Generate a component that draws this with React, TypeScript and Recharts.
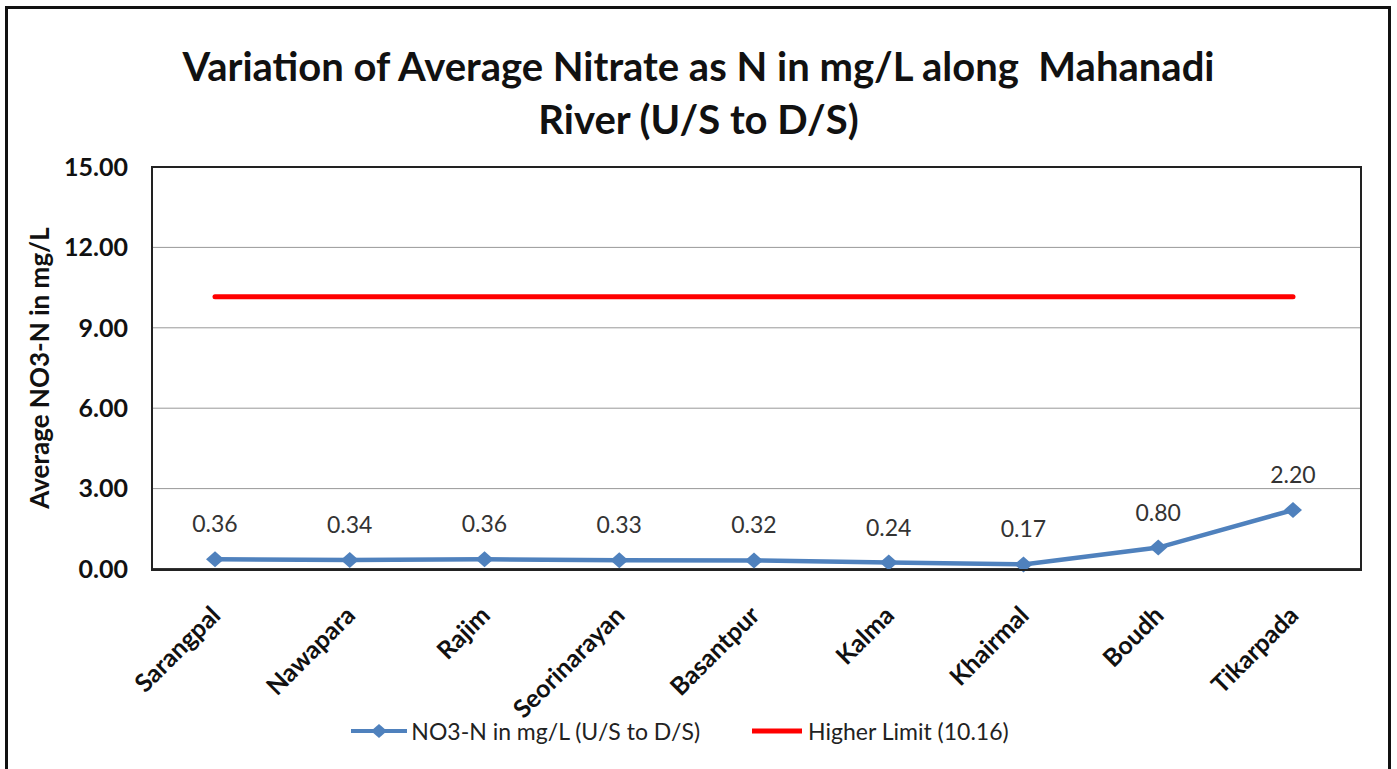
import React from 'react';
import {
  LineChart,
  Line,
  XAxis,
  YAxis,
  CartesianGrid,
  Legend,
  LabelList,
} from 'recharts';

const stations = [
  'Sarangpal',
  'Nawapara',
  'Rajim',
  'Seorinarayan',
  'Basantpur',
  'Kalma',
  'Khairmal',
  'Boudh',
  'Tikarpada',
];
const nitrate = [0.36, 0.34, 0.36, 0.33, 0.32, 0.24, 0.17, 0.8, 2.2];
const higherLimit = 10.16;
const yTicks = [0, 3, 6, 9, 12, 15];

const data = stations.map((name, i) => ({
  name,
  no3: nitrate[i],
  limit: higherLimit,
}));

const FONT = 'Lato, "Open Sans", sans-serif';

const XTick = (props: any) => {
  const { x, y, payload } = props;
  return (
    <g transform={`translate(${x + 7},${y + 40})`}>
      <text
        transform="rotate(-45)"
        textAnchor="end"
        fontFamily={FONT}
        fontWeight="bold"
        fontSize={25}
        fill="#111"
      >
        {payload.value}
      </text>
    </g>
  );
};

const ValueLabel = (props: any) => {
  const { x, y, value } = props;
  return (
    <text
      x={x}
      y={y - 27}
      textAnchor="middle"
      fontFamily={FONT}
      fontSize={23}
      fill="#333"
    >
      {Number(value).toFixed(2)}
    </text>
  );
};

const LegendBox = () => (
  <div
    style={{
      display: 'flex',
      justifyContent: 'center',
      alignItems: 'center',
      fontFamily: FONT,
      fontSize: 23,
      color: '#222',
      paddingTop: 28,
    }}
  >
    <svg width={56} height={20} style={{ marginRight: 4 }}>
      <line x1={0} y1={10} x2={56} y2={10} stroke="#4F81BD" strokeWidth={4} />
      <path d="M28 3 L36 10 L28 17 L20 10 Z" fill="#4F81BD" />
    </svg>
    <span>NO3-N in mg/L (U/S to D/S)</span>
    <svg width={50} height={20} style={{ marginLeft: 52, marginRight: 6 }}>
      <line x1={0} y1={10} x2={50} y2={10} stroke="#FF0000" strokeWidth={5} />
    </svg>
    <span>Higher Limit (10.16)</span>
  </div>
);

export default function App() {
  return (
    <div
      style={{
        position: 'absolute',
        left: 0,
        top: 0,
        width: 1397,
        height: 769,
        background: '#fff',
        overflow: 'hidden',
      }}
    >
      <div
        style={{
          position: 'absolute',
          left: 5,
          top: 6,
          width: 1380,
          height: 780,
          border: '3px solid #111',
        }}
      />
      <div
        style={{
          position: 'absolute',
          left: 0,
          top: 40,
          width: 1397,
          textAlign: 'center',
          fontFamily: FONT,
          fontWeight: 'bold',
          fontSize: 40,
          lineHeight: '53px',
          color: '#111',
        }}
      >
        Variation of Average Nitrate as N in mg/L along&nbsp; Mahanadi
        <br />
        River (U/S to D/S)
      </div>
      <LineChart
        width={1397}
        height={769}
        data={data}
        margin={{ top: 167, right: 37, left: 0, bottom: 0 }}
        style={{ position: 'absolute', left: 0, top: 0 }}
      >
        <CartesianGrid vertical={false} stroke="#999" strokeWidth={1} />
        <XAxis
          dataKey="name"
          height={120}
          tick={<XTick />}
          tickLine={false}
          axisLine={{ stroke: '#333', strokeWidth: 2 }}
          interval={0}
          padding={{ left: 63, right: 67 }}
        />
        <YAxis
          width={152}
          domain={[0, 15]}
          ticks={yTicks}
          tickFormatter={(v: number) => v.toFixed(2)}
          tick={{ fontFamily: FONT, fontWeight: 'bold', fontSize: 25, fill: '#111' }}
          tickLine={false}
          axisLine={{ stroke: '#333', strokeWidth: 2 }}
          tickMargin={18}
          label={{
            value: 'Average NO3-N in mg/L',
            angle: -90,
            position: 'insideLeft',
            offset: 40,
            style: {
              fontFamily: FONT,
              fontWeight: 'bold',
              fontSize: 26,
              fill: '#111',
              textAnchor: 'middle',
            },
          }}
        />
        <Legend height={80} verticalAlign="bottom" content={<LegendBox />} />
        <Line
          type="linear"
          dataKey="limit"
          stroke="#FF0000"
          strokeWidth={5}
          strokeLinecap="round"
          dot={false}
          activeDot={false}
          isAnimationActive={false}
        />
        <Line
          type="linear"
          dataKey="no3"
          stroke="#4F81BD"
          strokeWidth={4.5}
          dot={(p: any) => (
            <path
              key={p.index}
              d={`M${p.cx} ${p.cy - 8} L${p.cx + 9} ${p.cy} L${p.cx} ${p.cy + 8} L${p.cx - 9} ${p.cy} Z`}
              fill="#4F81BD"
            />
          )}
          activeDot={false}
          isAnimationActive={false}
        >
          <LabelList dataKey="no3" content={<ValueLabel />} />
        </Line>
      </LineChart>
      <div
        style={{
          position: 'absolute',
          left: 151,
          top: 166,
          width: 1207,
          height: 401,
          border: '2px solid #222',
          pointerEvents: 'none',
        }}
      />
    </div>
  );
}
